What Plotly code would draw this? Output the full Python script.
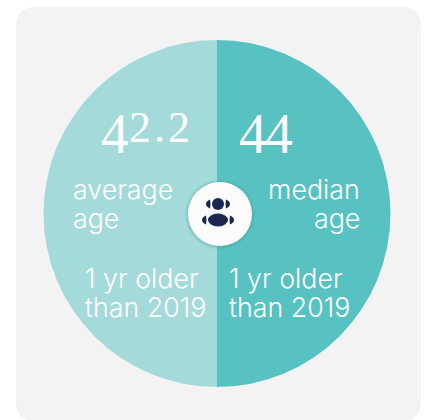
import plotly.graph_objects as go

W, H = 426, 420

# Two equal halves of the disc, listed clockwise from twelve o'clock
slice_names = ["median age", "average age"]
slice_shares = [50, 50]
slice_colors = ["#58C2C3", "#A4DAD9"]

# Headline figures, with old-style descending fours
headline_text = [
    '<span style="font-size:56px;baseline-shift:-11px">4</span>'
    '<span style="font-size:44px;letter-spacing:3px">2.2</span>',
    '<span style="font-size:56px;baseline-shift:-11px;letter-spacing:-2px">44</span>',
]
headline_x = [99, 237]
headline_y = [134, 134]

# Caption lines
caption_text = ["average", "age", "median", "age",
                "1 yr older", "than 2019", "1 yr older", "than 2019"]
caption_x = [71, 71, 362, 362, 83, 83, 227, 227]
caption_y = [189, 218, 189, 218, 278, 307, 278, 307]
caption_anchor = ["left", "left", "right", "right", "left", "left", "left", "left"]

PANEL = "#F3F3F3"
NAVY = "#1B2753"


def px(x):
    return x / W


def py(y):
    return 1 - y / H


def pt(x, y):
    return f"{px(x):.5f},{py(y):.5f}"


def rounded_rect(x0, y0, x1, y1, r):
    return (f"M{pt(x0 + r, y0)} L{pt(x1 - r, y0)} Q{pt(x1, y0)} {pt(x1, y0 + r)} "
            f"L{pt(x1, y1 - r)} Q{pt(x1, y1)} {pt(x1 - r, y1)} "
            f"L{pt(x0 + r, y1)} Q{pt(x0, y1)} {pt(x0, y1 - r)} "
            f"L{pt(x0, y0 + r)} Q{pt(x0, y0)} {pt(x0 + r, y0)} Z")


def ellipse(cx, cy, rx, ry, color, opacity=1.0, layer="above"):
    return dict(type="circle", xref="paper", yref="paper",
                x0=px(cx - rx), x1=px(cx + rx), y0=py(cy + ry), y1=py(cy - ry),
                fillcolor=color, opacity=opacity, line_width=0, layer=layer)


def crescent(x_tip, x_back, cy, half_h, color):
    # Side sliver of the people icon, bowed away from the centre
    return dict(type="path", xref="paper", yref="paper",
                path=f"M{pt(x_back, cy - half_h)} Q{pt(x_tip, cy - half_h * 0.6)} {pt(x_tip, cy)} "
                     f"Q{pt(x_tip, cy + half_h * 0.6)} {pt(x_back, cy + half_h)} "
                     f"Q{pt(x_back - (x_tip - x_back) * 0.25, cy)} {pt(x_back, cy - half_h)} Z",
                fillcolor=color, line_width=0, layer="above")


fig = go.Figure(go.Pie(
    labels=slice_names,
    values=slice_shares,
    sort=False,
    direction="clockwise",
    rotation=0,
    marker=dict(colors=slice_colors, line=dict(width=0)),
    textinfo="none",
    hoverinfo="skip",
    showlegend=False,
    domain=dict(x=[px(43.5), px(390.5)], y=[py(387.5), py(39.5)]),
))

shapes = [
    dict(type="path", xref="paper", yref="paper", path=rounded_rect(16, 7, 421, 421, 20),
         fillcolor=PANEL, line_width=0, layer="below"),
    # Badge in the middle with its soft edge
    ellipse(220, 214.5, 35, 35, "#3A8E8F", 0.10),
    ellipse(220, 214.5, 33.5, 33.5, "#3A8E8F", 0.18),
    ellipse(220, 214, 32, 32, "#FCFCFD"),
    # People icon
    ellipse(218, 204, 6, 6, NAVY),
    ellipse(218, 220, 10, 6.5, NAVY),
    crescent(206, 210, 204, 4.5, NAVY),
    crescent(230, 226, 204, 4.5, NAVY),
    crescent(202, 206, 220, 4.5, NAVY),
    crescent(234, 230, 220, 4.5, NAVY),
]

annotations = []
for t, x, y in zip(headline_text, headline_x, headline_y):
    annotations.append(dict(text=t, x=px(x), y=py(y), xref="paper", yref="paper",
                            xanchor="left", yanchor="middle", showarrow=False,
                            font=dict(family="Liberation Serif", size=42, color="white")))
for t, x, y, a in zip(caption_text, caption_x, caption_y, caption_anchor):
    annotations.append(dict(text=t, x=px(x), y=py(y), xref="paper", yref="paper",
                            xanchor=a, yanchor="middle", showarrow=False,
                            font=dict(family="Inter", weight=300, size=26.8, color="white")))

fig.update_layout(width=W, height=H, margin=dict(l=0, r=0, t=0, b=0),
                  paper_bgcolor="white", plot_bgcolor="white",
                  shapes=shapes, annotations=annotations)

fig.write_html("out.html", config=dict(displayModeBar=False))
